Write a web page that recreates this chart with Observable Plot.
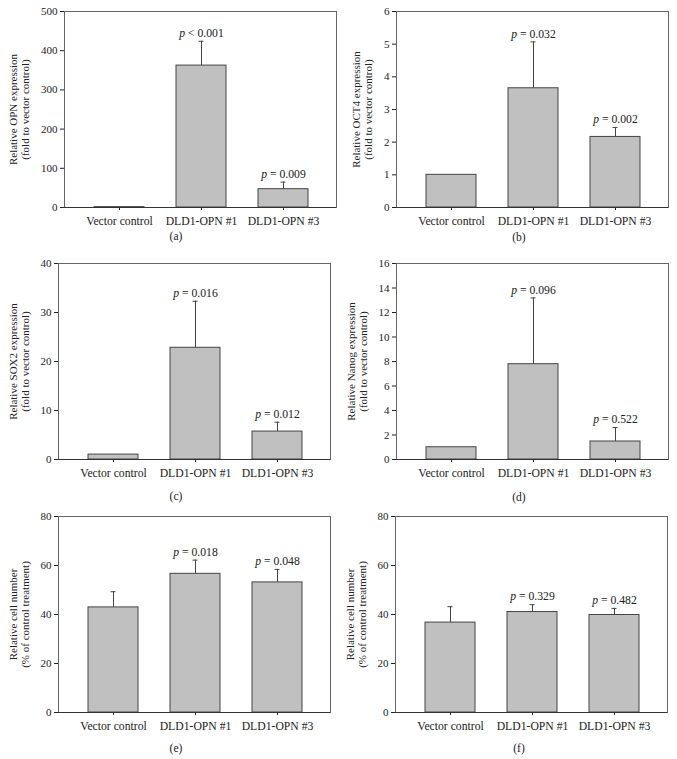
<!DOCTYPE html>
<html>
<head>
<meta charset="utf-8">
<script src="https://cdn.jsdelivr.net/npm/d3@7"></script>
<script src="https://cdn.jsdelivr.net/npm/@observablehq/plot@0.6"></script>
<style>
  html, body { margin: 0; padding: 0; background: #fff; }
  #root { position: relative; width: 677px; height: 759px; overflow: hidden; font-family: "Liberation Serif", "Times New Roman", serif; color: #222; }
  .panel { position: absolute; }
  .cap { position: absolute; font-size: 11.5px; transform: translate(-50%, -50%); white-space: nowrap; }
</style>
</head>
<body>
<div id="root"></div>
<script>
// ---- data ----
const groups = ["Vector control", "DLD1-OPN #1", "DLD1-OPN #3"];

const opnMean = [1, 362, 46.7];
const opnErr = [0, 62, 18];
const opnP = ["", "p < 0.001", "p = 0.009"];
const opnTicks = [0, 100, 200, 300, 400, 500];
const opnLabel = "Relative OPN expression\n(fold to vector control)";

const oct4Mean = [1, 3.65, 2.16];
const oct4Err = [0, 1.42, 0.29];
const oct4P = ["", "p = 0.032", "p = 0.002"];
const oct4Ticks = [0, 1, 2, 3, 4, 5, 6];
const oct4Label = "Relative OCT4 expression\n(fold to vector control)";

const sox2Mean = [1, 22.8, 5.7];
const sox2Err = [0, 9.5, 1.9];
const sox2P = ["", "p = 0.016", "p = 0.012"];
const sox2Ticks = [0, 10, 20, 30, 40];
const sox2Label = "Relative SOX2 expression\n(fold to vector control)";

const nanogMean = [1, 7.78, 1.47];
const nanogErr = [0, 5.41, 1.14];
const nanogP = ["", "p = 0.096", "p = 0.522"];
const nanogTicks = [0, 2, 4, 6, 8, 10, 12, 14, 16];
const nanogLabel = "Relative Nanog expression\n(fold to vector control)";

const cellEMean = [42.9, 56.6, 53.1];
const cellEErr = [6.4, 5.6, 5.3];
const cellEP = ["", "p = 0.018", "p = 0.048"];
const cellFMean = [36.7, 41.0, 39.8];
const cellFErr = [6.5, 3.0, 2.7];
const cellFP = ["", "p = 0.329", "p = 0.482"];
const cellTicks = [0, 20, 40, 60, 80];
const cellLabel = "Relative cell number\n(% of control treatment)";

const captions = ["(a)", "(b)", "(c)", "(d)", "(e)", "(f)"];

// ---- layout ----
const panels = [
  {mean: opnMean, err: opnErr, p: opnP, ticks: opnTicks, label: opnLabel, cap: captions[0],
   left: 0, top: 0, width: 338, height: 230, ml: 64, mr: 2, mt: 11, mb: 23, ldx: -45, cx: 176, cy: 236},
  {mean: oct4Mean, err: oct4Err, p: oct4P, ticks: oct4Ticks, label: oct4Label, cap: captions[1],
   left: 338, top: 0, width: 339, height: 230, ml: 58, mr: 9, mt: 11, mb: 23, ldx: -34, cx: 519, cy: 237},
  {mean: sox2Mean, err: sox2Err, p: sox2P, ticks: sox2Ticks, label: sox2Label, cap: captions[2],
   left: 0, top: 250, width: 338, height: 230, ml: 58, mr: 8, mt: 13, mb: 21, ldx: -39, cx: 176, cy: 496},
  {mean: nanogMean, err: nanogErr, p: nanogP, ticks: nanogTicks, label: nanogLabel, cap: captions[3],
   left: 338, top: 250, width: 339, height: 230, ml: 58, mr: 9, mt: 13, mb: 21, ldx: -39, cx: 519, cy: 497},
  {mean: cellEMean, err: cellEErr, p: cellEP, ticks: cellTicks, label: cellLabel, cap: captions[4],
   left: 0, top: 500, width: 338, height: 235, ml: 58, mr: 8, mt: 16, mb: 23, ldx: -39.5, cx: 176, cy: 748},
  {mean: cellFMean, err: cellFErr, p: cellFP, ticks: cellTicks, label: cellLabel, cap: captions[5],
   left: 338, top: 500, width: 339, height: 235, ml: 57, mr: 10, mt: 16, mb: 23, ldx: -39.5, cx: 519, cy: 748}
];

const root = document.getElementById("root");

function italicizeP(svg) {
  svg.querySelectorAll("text").forEach(t => {
    const s = t.textContent;
    const m = /^p ([<=].*)$/.exec(s);
    if (m && t.children.length === 0) {
      t.textContent = "";
      const ns = "http://www.w3.org/2000/svg";
      const ts = document.createElementNS(ns, "tspan");
      ts.setAttribute("font-style", "italic");
      ts.textContent = "p";
      t.appendChild(ts);
      t.appendChild(document.createTextNode(" " + m[1]));
    }
  });
}

panels.forEach(cfg => {
  const rows = groups.map((g, i) => ({g, v: cfg.mean[i], e: cfg.err[i], p: cfg.p[i]}));
  const withErr = rows.filter(d => d.e > 0);
  const withP = rows.filter(d => d.p);
  const ymax = cfg.ticks[cfg.ticks.length - 1];
  const svg = Plot.plot({
    width: cfg.width,
    height: cfg.height,
    marginLeft: cfg.ml,
    marginRight: cfg.mr,
    marginTop: cfg.mt,
    marginBottom: cfg.mb,
    style: {fontFamily: "'Liberation Serif', 'Times New Roman', serif", fontSize: "11px", color: "#222", background: "transparent", overflow: "visible"},
    marks: [
      Plot.axisY({ticks: cfg.ticks, tickFormat: d => String(d), label: null, tickSize: 4, tickPadding: 3, fontSize: 11}),
      Plot.axisX({label: null, tickSize: 3, tickPadding: 6, fontSize: 11.7}),
      Plot.ruleX(withErr, {x: "g", y1: "v", y2: d => d.v + d.e, stroke: "#444", strokeWidth: 1}),
      Plot.tickY(withErr, {x: "g", y: d => d.v + d.e, stroke: "#444", strokeWidth: 1, insetLeft: 22.5, insetRight: 22.5}),
      Plot.barY(rows, {x: "g", y: "v", fill: "#c0c0c0", stroke: "#444", strokeWidth: 1}),
      Plot.frame({stroke: "#666", strokeWidth: 1}),
      Plot.ruleY([0], {stroke: "#333", strokeWidth: 1}),
      Plot.text(withP, {x: "g", y: d => d.v + d.e, text: "p", dy: -8, lineAnchor: "middle", fill: "#222", fontSize: 11.7}),
      Plot.text([cfg.label], {text: d => d, frameAnchor: "left", textAnchor: "middle", rotate: -90, dx: cfg.ldx, lineHeight: 1.09, lineAnchor: "middle", fill: "#222", fontSize: 11})
    ],
    x: {domain: groups, range: [cfg.ml + 29.5, cfg.ml + 244.5], paddingInner: 0.394, paddingOuter: 0},
    y: {domain: [0, ymax]}
  });
  italicizeP(svg);
  const div = document.createElement("div");
  div.className = "panel";
  div.style.left = cfg.left + "px";
  div.style.top = cfg.top + "px";
  div.appendChild(svg);
  root.appendChild(div);

  const cap = document.createElement("div");
  cap.className = "cap";
  cap.style.left = cfg.cx + "px";
  cap.style.top = cfg.cy + "px";
  cap.textContent = cfg.cap;
  root.appendChild(cap);
});
</script>
</body>
</html>
